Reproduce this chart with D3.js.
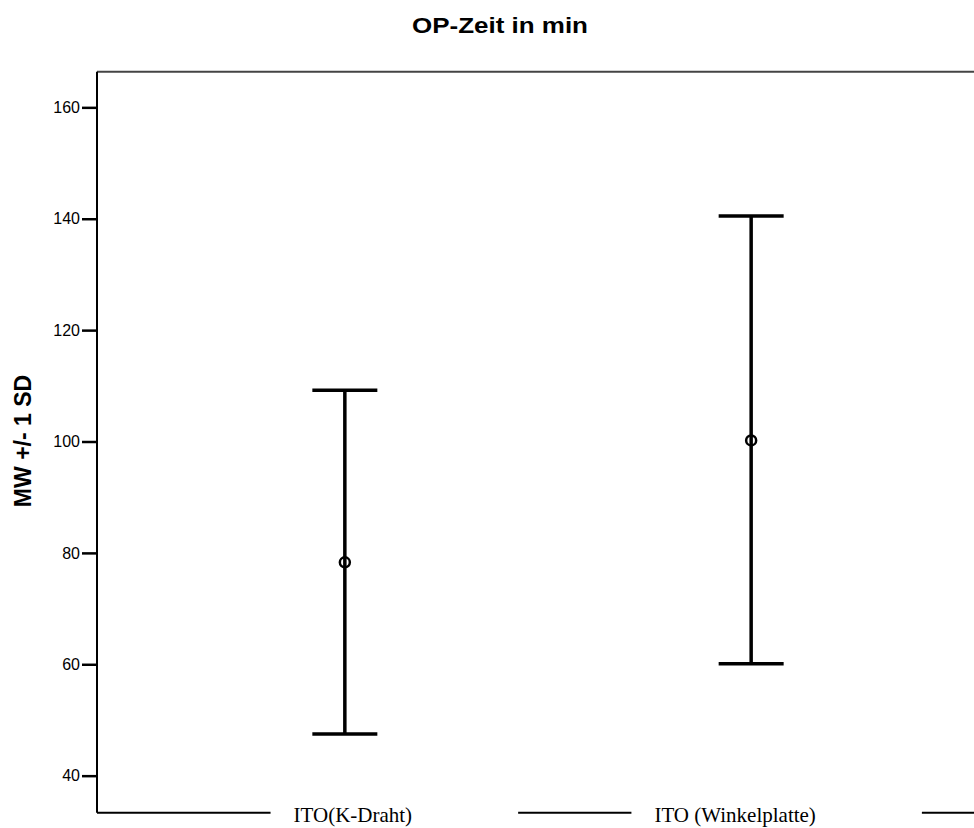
<!DOCTYPE html>
<html>
<head>
<meta charset="utf-8">
<script src="https://cdn.jsdelivr.net/npm/d3@7"></script>
<style>
  body { margin: 0; background: #fff; }
  svg { display: block; }
</style>
</head>
<body>
<div id="chart"></div>
<script>
// data
const groups = ['ITO(K-Draht)', 'ITO (Winkelplatte)'];
const means = [78.3, 100.2];
const upper = [109.2, 140.5]; // MW + 1 SD
const lower = [47.5, 60.1];   // MW - 1 SD
const yTicks = [40, 60, 80, 100, 120, 140, 160];

const width = 974, height = 828;
const plotLeft = 97, plotTop = 71.7, plotRight = 999, plotBottom = 812.7;

const svg = d3.select('#chart').append('svg').attr('width', width).attr('height', height);

const x = d3.scalePoint().domain(groups).range([plotLeft, plotRight]).padding(0.61);
const y = d3.scaleLinear().domain([33.35, 166.4]).range([plotBottom, plotTop]);

// frame: top + left
svg.append('line')
  .attr('x1', plotLeft).attr('x2', plotRight).attr('y1', plotTop).attr('y2', plotTop)
  .style('stroke', '#444').style('stroke-width', 2);

// y axis
const yAxis = svg.append('g')
  .attr('transform', `translate(${plotLeft},0)`)
  .call(d3.axisLeft(y).tickValues(yTicks).tickSize(15).tickPadding(2).tickFormat(d3.format('d')));
yAxis.select('.domain').attr('d', `M0,${plotTop}V${plotBottom}`).style('stroke', '#000').style('stroke-width', 2);
yAxis.selectAll('.tick line').style('stroke', '#000').style('stroke-width', 2.5);
yAxis.selectAll('.tick text')
  .style('font-family', '"Liberation Sans", Arial, sans-serif')
  .style('font-size', '16px')
  .style('fill', '#000');

// category labels and the broken bottom line
const labelDx = [8, -16];
const labels = svg.append('g').selectAll('text')
  .data(groups)
  .enter()
  .append('text')
  .attr('x', (d, i) => x(d) + labelDx[i])
  .attr('y', 822)
  .attr('text-anchor', 'middle')
  .style('font-family', '"Liberation Serif", "Times New Roman", serif')
  .style('font-size', '21px')
  .style('fill', '#000')
  .text(d => d);

const gaps = [];
labels.each(function () {
  const b = this.getBBox();
  gaps.push([b.x - 23, b.x + b.width + 106]);
});
let start = plotLeft;
gaps.forEach(g => {
  svg.append('line')
    .attr('x1', start).attr('x2', g[0]).attr('y1', plotBottom).attr('y2', plotBottom)
    .style('stroke', '#000').style('stroke-width', 2);
  start = g[1];
});
svg.append('line')
  .attr('x1', start).attr('x2', plotRight).attr('y1', plotBottom).attr('y2', plotBottom)
  .style('stroke', '#000').style('stroke-width', 2);

// error bars
const capW = 65;
const bars = svg.append('g').selectAll('g')
  .data(groups)
  .enter()
  .append('g');

bars.append('line')
  .attr('x1', d => x(d)).attr('x2', d => x(d))
  .attr('y1', (d, i) => y(upper[i])).attr('y2', (d, i) => y(lower[i]))
  .style('stroke', '#000').style('stroke-width', 3.5);

bars.append('line')
  .attr('x1', d => x(d) - capW / 2).attr('x2', d => x(d) + capW / 2)
  .attr('y1', (d, i) => y(upper[i])).attr('y2', (d, i) => y(upper[i]))
  .style('stroke', '#000').style('stroke-width', 3.5);

bars.append('line')
  .attr('x1', d => x(d) - capW / 2).attr('x2', d => x(d) + capW / 2)
  .attr('y1', (d, i) => y(lower[i])).attr('y2', (d, i) => y(lower[i]))
  .style('stroke', '#000').style('stroke-width', 3.5);

bars.append('circle')
  .attr('cx', d => x(d))
  .attr('cy', (d, i) => y(means[i]))
  .attr('r', 5)
  .style('fill', 'none')
  .style('stroke', '#000')
  .style('stroke-width', 2.5);

// title
svg.append('text')
  .attr('x', 500).attr('y', 33)
  .attr('text-anchor', 'middle')
  .attr('textLength', 176)
  .attr('lengthAdjust', 'spacingAndGlyphs')
  .style('font-family', '"Liberation Sans", Arial, sans-serif')
  .style('font-weight', 'bold')
  .style('font-size', '22px')
  .text('OP-Zeit in min');

// y label
svg.append('text')
  .attr('transform', 'translate(31,441) rotate(-90)')
  .attr('text-anchor', 'middle')
  .style('font-family', '"Liberation Sans", Arial, sans-serif')
  .style('font-weight', 'bold')
  .style('font-size', '23px')
  .text('MW +/- 1 SD');
</script>
</body>
</html>
